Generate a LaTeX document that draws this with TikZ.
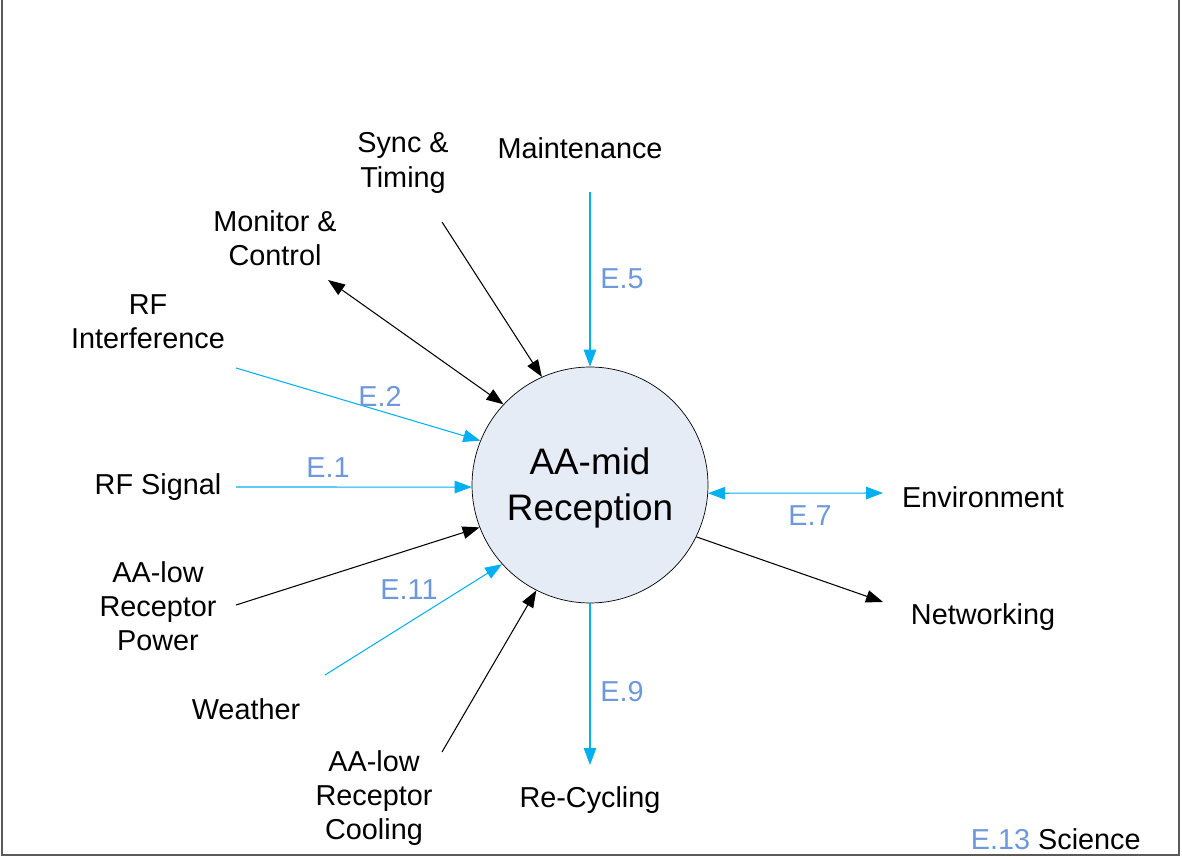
\documentclass[tikz,border=0pt]{standalone}
\usepackage{fontspec}
\setmainfont{Liberation Sans}
\usetikzlibrary{arrows.meta}
\definecolor{flowcyan}{RGB}{0,176,240}
\definecolor{elabel}{RGB}{110,152,220}
\definecolor{hubfill}{RGB}{230,236,246}
\definecolor{frame}{RGB}{90,90,90}
\begin{document}
\begin{tikzpicture}[x=0.02cm, y=-0.02cm, >={Triangle[length=3.4mm,width=2.5mm]},
	lbl/.style={align=center, font=\fontsize{16.4}{19.5}\selectfont, inner sep=0pt},
	elbl/.style={lbl, text=elabel},
	blk/.style={line width=0.6pt, black},
	cyn/.style={line width=0.6pt, flowcyan}]
	\useasboundingbox (0,0) rectangle (1182,857);
	\draw[frame, line width=0.8pt](2,0) -- (2,855) -- (1179,855) -- (1179,0);%Rahmen
	\node[circle, draw, fill=hubfill, minimum size=4.72cm, inner sep=0pt] (hub) at (590,485) {};
	\node[align=center, font=\fontsize{21}{26}\selectfont] (hubtxt) at (590,488) {AA-mid\\Reception};
	% Quellen und Senken
	\node[lbl] (sync) at (403,163) {Sync \&\\Timing};
	\node[lbl] (maint) at (580,148) {Maintenance};
	\node[lbl] (mc) at (275,238) {Monitor \&\\Control};
	\node[lbl] (rfi) at (148,322) {RF\\Interference};
	\node[lbl] (rfs) at (158,487) {RF Signal};
	\node[lbl] (pwr) at (158,606) {AA-low\\Receptor\\Power};
	\node[lbl] (wx) at (246,709) {Weather};
	\node[lbl] (cool) at (374,798) {AA-low\\Receptor\\Cooling};
	\node[lbl] (recyc) at (590,800) {Re-Cycling};
	\node[lbl] (env) at (983,497) {Environment};
	\node[lbl] (net) at (983,617) {Networking};
	\node[lbl, anchor=east] (sci) at (1141,839) {\textcolor{elabel}{E.13} Science};
	% freie Enden
	\coordinate (sync-e) at (442,222);
	\coordinate (maint-e) at (590,192);
	\coordinate (mc-e) at (328,280);
	\coordinate (rfi-e) at (236,368);
	\coordinate (rfs-e) at (236,487);
	\coordinate (pwr-e) at (236,605);
	\coordinate (wx-e) at (325,675);
	\coordinate (cool-e) at (442,752);
	\coordinate (recyc-e) at (590,765);
	\coordinate (env-e) at (883,493);
	\coordinate (net-e) at (883,602);
	% Verbindungen
	\draw[blk, ->](sync-e) -- (hub.114);
	\draw[cyn, ->](maint-e) -- (hub.90);
	\draw[blk, <->](mc-e) -- (hub.137);
	\draw[cyn, ->](rfi-e) -- (hub.158);
	\draw[cyn, ->](rfs-e) -- (hub.181);
	\draw[blk, ->](pwr-e) -- (hub.201);
	\draw[cyn, ->](wx-e) -- (hub.222);
	\draw[blk, ->](cool-e) -- (hub.243);
	\draw[cyn, ->](hub.270) -- (recyc-e);
	\draw[cyn, <->](hub.356) -- (env-e);
	\draw[blk, ->](hub.334) -- (net-e);
	% Bezeichner
	\node[elbl] (e5) at (622,279) {E.5};
	\node[elbl] (e2) at (380,396) {E.2};
	\node[elbl] (e1) at (328,468) {E.1};
	\node[elbl] (e11) at (409,590) {E.11};
	\node[elbl] (e9) at (622,692) {E.9};
	\node[elbl] (e7) at (810,516) {E.7};
\end{tikzpicture}
\end{document}
